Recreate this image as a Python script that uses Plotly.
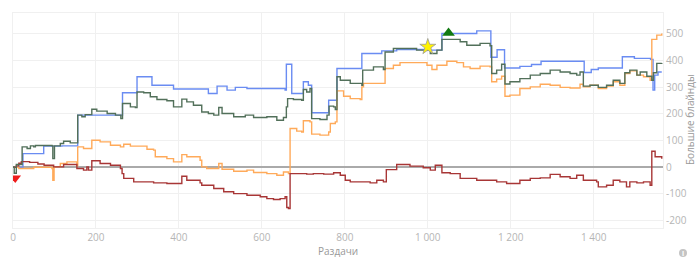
import plotly.graph_objects as go

# ---- data (hands, big blinds) ----
blue_x = [0, 24, 74, 118, 156, 260, 264, 299, 331, 335, 383, 387, 471, 492, 516, 536, 564, 656, 659, 672, 700, 712, 720, 761, 781, 813, 841, 889, 925, 1006, 1034, 1118, 1152, 1167, 1185, 1222, 1250, 1273, 1377, 1394, 1411, 1469, 1498, 1537, 1543, 1547, 1555, 1564]
blue_y = [0, 51, 79, 80, 195, 195, 279, 339, 339, 307, 307, 293, 276, 304, 289, 299, 295, 289, 386, 276, 320, 307, 204, 251, 370, 370, 426, 436, 441, 439, 501, 511, 412, 440, 372, 378, 385, 397, 355, 366, 372, 414, 408, 404, 289, 345, 357, 357]

green_x = [0, 2, 3, 8, 22, 34, 42, 50, 54, 94, 96, 100, 114, 122, 138, 156, 166, 174, 190, 202, 227, 247, 260, 264, 283, 295, 299, 315, 331, 347, 371, 387, 407, 419, 435, 455, 471, 484, 496, 504, 532, 560, 580, 612, 636, 652, 659, 662, 676, 696, 700, 708, 716, 720, 740, 757, 762, 773, 777, 781, 789, 813, 841, 843, 869, 893, 897, 917, 973, 1006, 1022, 1034, 1078, 1094, 1126, 1150, 1154, 1166, 1178, 1186, 1198, 1222, 1247, 1271, 1295, 1319, 1343, 1359, 1367, 1375, 1391, 1411, 1431, 1447, 1463, 1475, 1487, 1504, 1512, 1528, 1540, 1544, 1552, 1564]
green_y = [0, 1, -23, 10, 76, 70, 80, 76, 81, 80, 32, 80, 89, 97, 91, 195, 189, 197, 217, 210, 201, 195, 182, 239, 226, 224, 282, 279, 264, 254, 249, 226, 255, 245, 232, 207, 201, 195, 224, 201, 189, 195, 186, 189, 176, 186, 226, 257, 254, 251, 291, 282, 295, 182, 179, 195, 229, 226, 216, 339, 326, 314, 307, 364, 376, 366, 432, 445, 439, 426, 439, 479, 470, 457, 464, 455, 351, 364, 386, 312, 320, 332, 345, 351, 364, 357, 351, 345, 357, 304, 307, 299, 307, 326, 314, 354, 364, 345, 357, 341, 326, 354, 389, 391]

orange_x = [0, 14, 50, 94, 96, 99, 114, 130, 154, 156, 170, 190, 210, 235, 259, 267, 283, 323, 339, 343, 371, 387, 407, 419, 451, 455, 467, 496, 504, 532, 564, 580, 612, 636, 652, 664, 668, 684, 696, 700, 716, 720, 740, 761, 765, 777, 781, 797, 813, 837, 841, 845, 893, 897, 917, 933, 973, 998, 1010, 1022, 1046, 1070, 1086, 1102, 1126, 1150, 1154, 1166, 1178, 1186, 1198, 1222, 1247, 1271, 1295, 1319, 1343, 1367, 1375, 1391, 1411, 1431, 1447, 1463, 1475, 1487, 1504, 1520, 1536, 1540, 1552, 1564]
orange_y = [0, -5, 0, -5, -49, 1, 14, 20, 5, 76, 70, 101, 95, 82, 76, 86, 79, 67, 64, 39, 32, 20, 47, 39, 26, 1, -5, 14, -8, -15, -11, -20, -24, -30, -18, -24, 145, 135, 132, 174, 170, 124, 120, 132, 164, 170, 286, 266, 257, 254, 301, 314, 314, 370, 382, 392, 392, 382, 366, 382, 397, 392, 376, 370, 379, 376, 320, 330, 341, 266, 270, 295, 301, 311, 307, 299, 297, 311, 301, 307, 295, 304, 320, 307, 351, 361, 345, 339, 326, 479, 495, 501]

red_x = [0, 8, 14, 20, 40, 60, 75, 98, 122, 154, 170, 178, 182, 190, 210, 235, 259, 263, 267, 291, 339, 371, 395, 407, 419, 451, 455, 484, 508, 532, 564, 596, 612, 628, 644, 656, 660, 664, 668, 684, 708, 724, 749, 773, 789, 801, 813, 837, 861, 877, 893, 900, 925, 957, 989, 1006, 1018, 1030, 1034, 1054, 1078, 1118, 1142, 1166, 1190, 1222, 1247, 1271, 1295, 1319, 1343, 1359, 1375, 1407, 1411, 1431, 1447, 1463, 1479, 1487, 1504, 1520, 1536, 1540, 1548, 1564]
red_y = [0, 5, 15, 21, 18, 12, 7, 1, 10, -5, -11, 1, -11, 24, 14, 7, -5, -24, -42, -55, -59, -61, -61, -34, -49, -59, -68, -80, -92, -99, -105, -111, -118, -121, -118, -111, -151, -155, -24, -24, -26, -24, -26, -21, -30, -49, -55, -55, -59, -49, -55, -9, 10, 4, -2, -11, 7, 7, -21, -24, -42, -49, -49, -55, -61, -49, -42, -40, -27, -36, -42, -30, -49, -55, -74, -68, -49, -55, -74, -55, -59, -55, -68, 60, 39, 32]

marker_x = [5.5, 1000, 1050]
marker_y = [-41, 451, 503]

x_ticks = [0, 200, 400, 600, 800, 1000, 1200, 1400]
x_tick_text = ["0", "200", "400", "600", "800", "1 000", "1 200", "1 400"]
y_ticks = [-200, -100, 0, 100, 200, 300, 400, 500]
y_tick_text = ["-200", "-100", "0", "100", "200", "300", "400", "500"]

W, H = 700, 263
ML, MR, MT, MB = 13, 37, 13, 35
PW, PH = W - ML - MR, H - MT - MB

def px_x(p):
    return (p - ML) / PW

def px_y(p):
    return (H - MB - p) / PH

fig = go.Figure()
fig.add_trace(go.Scatter(x=blue_x, y=blue_y, mode="lines", line=dict(color="#6a8cf2", width=1.4, shape="hv")))
fig.add_trace(go.Scatter(x=orange_x, y=orange_y, mode="lines", line=dict(color="#ffaa5a", width=1.4, shape="hv")))
fig.add_trace(go.Scatter(x=red_x, y=red_y, mode="lines", line=dict(color="#a83636", width=1.4, shape="hv")))
fig.add_trace(go.Scatter(x=green_x, y=green_y, mode="lines", line=dict(color="#52705a", width=1.4, shape="hv")))
fig.add_trace(go.Scatter(x=marker_x[:1], y=marker_y[:1], mode="markers",
                         marker=dict(symbol="triangle-down", size=10, color="#ee1c1c", line=dict(width=0))))
fig.add_trace(go.Scatter(x=marker_x[1:2], y=marker_y[1:2], mode="markers",
                         marker=dict(symbol="star", size=12, color="#fff200", line=dict(width=0.8, color="#999999"))))
fig.add_trace(go.Scatter(x=marker_x[2:], y=marker_y[2:], mode="markers",
                         marker=dict(symbol="triangle-up", size=11, color="#127a12", line=dict(width=0))))

tickfont = dict(family="Open Sans, sans-serif", size=10, color="#b5b5b5")
titlefont = dict(family="Open Sans, sans-serif", size=10, color="#999999")
fig.update_layout(
    width=W, height=H,
    margin=dict(l=ML, r=MR, t=MT, b=MB, autoexpand=False),
    paper_bgcolor="white", plot_bgcolor="white",
    showlegend=False,
    xaxis=dict(range=[0, 1567], tickvals=x_ticks, ticktext=x_tick_text, tickfont=tickfont,
               showgrid=True, gridcolor="#f0f0f0", gridwidth=1, zeroline=False,
               showline=True, linecolor="#f0f0f0", mirror=True, ticks="", automargin=False),
    yaxis=dict(range=[-228, 578], side="right", tickvals=y_ticks, ticktext=y_tick_text, tickfont=tickfont,
               showgrid=True, gridcolor="#f0f0f0", gridwidth=1,
               zeroline=True, zerolinecolor="#aaaaaa", zerolinewidth=1.5,
               showline=True, linecolor="#f0f0f0", mirror=True, ticks="", automargin=False),
)
fig.add_annotation(x=0.5, y=px_y(251), xref="paper", yref="paper", text="Раздачи", showarrow=False,
                   font=titlefont, xanchor="center", yanchor="middle")
fig.add_annotation(x=px_x(690), y=px_y(120), xref="paper", yref="paper", text="Большие блайнды",
                   showarrow=False, textangle=-90, font=titlefont, xanchor="center", yanchor="middle")
fig.add_shape(type="circle", xref="paper", yref="paper",
              x0=px_x(679), x1=px_x(687), y0=px_y(257), y1=px_y(249),
              fillcolor="#c4c4c4", line=dict(width=0))
fig.add_annotation(x=px_x(683), y=px_y(253), xref="paper", yref="paper", text="<b>i</b>", showarrow=False,
                   font=dict(size=7, color="white", family="Open Sans"), xanchor="center", yanchor="middle")

fig.write_html("out.html")
